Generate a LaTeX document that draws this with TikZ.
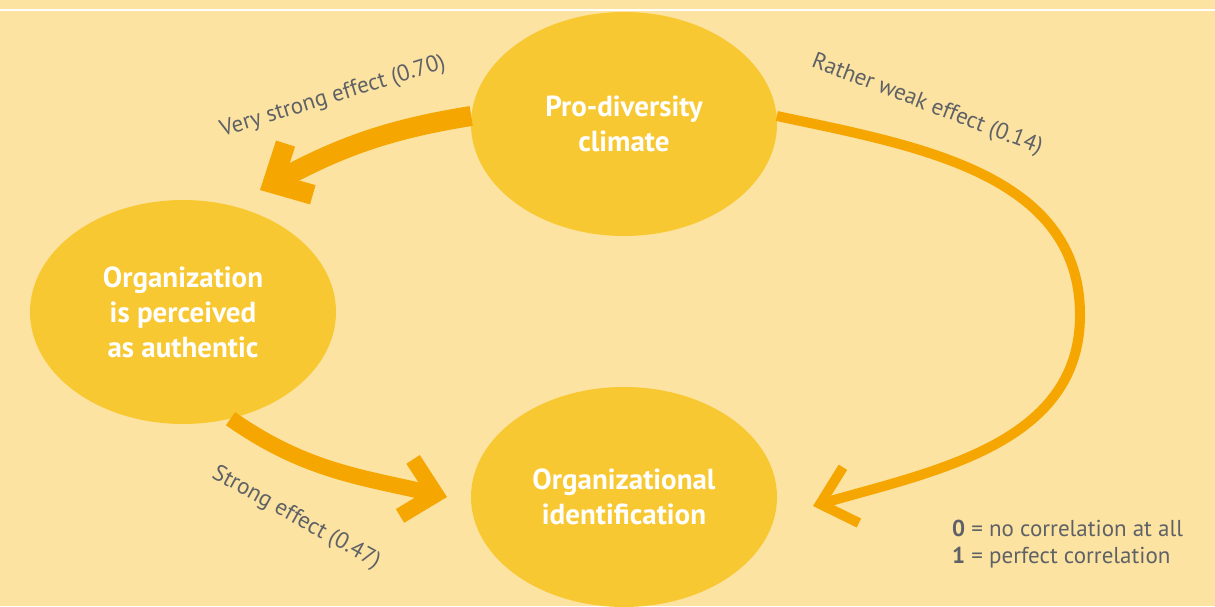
\documentclass[tikz,border=0pt]{standalone}
\usepackage{fontspec}
\setmainfont{PT Sans}
\usepackage{tikz}
\usetikzlibrary{arrows.meta,calc,positioning,shapes.geometric}
\definecolor{paper}{RGB}{253,227,161}
\definecolor{bubbleFill}{RGB}{248,200,50}
\definecolor{effectOrange}{RGB}{245,166,0}
\definecolor{labelGray}{RGB}{94,98,102}
\tikzset{
  bubble/.style={ellipse, fill=bubbleFill, minimum width=306pt, minimum height=224pt, inner sep=0pt,
    align=center, text=white, font=\fontsize{29}{35}\selectfont\bfseries},
  effectArrow/.style={draw=effectOrange, line cap=butt,
    -{Straight Barb[length=#1, width=58pt, line cap=butt, line join=miter]}},
  effectLabel/.style={text=labelGray, font=\fontsize{23}{26}\selectfont, inner sep=0pt},
  keyText/.style={text=labelGray, font=\fontsize{23}{27}\selectfont, inner sep=0pt, anchor=base west}
}
\begin{document}
\begin{tikzpicture}[x=1pt,y=1pt]
  \useasboundingbox (0,0) rectangle (1215,606);
  \fill[paper] (0,0) rectangle (1215,606);
  \draw[white, line width=1.5pt] (0,596) -- (1215,596);

  % the three factors
  \node[bubble] (climate) at (624,482) {Pro-diversity\\climate};
  \node[bubble] (authentic) at (183,294) {Organization\\is perceived\\as authentic};
  \node[bubble, minimum height=220pt] (ident) at (624,109) {Organizational\\identification};

  % arrow ends
  \coordinate (tipA) at (260,416);
  \coordinate (tipB) at (447,109);
  \coordinate (tipC) at (813,100);
  \coordinate (bendC) at (1080,291);

  \draw[effectArrow=30pt, line width=20pt] (climate.177) to[out=189, in=28] (tipA);
  \draw[effectArrow=30pt, line width=16pt] (authentic.-66) to[out=-35, in=167] (tipB);
  \draw[effectArrow=32pt, line width=10pt] (climate.3) to[out=-12, in=90] (bendC)
    to[out=-90, in=16] (tipC);

  % effect sizes
  \node[effectLabel, rotate=17] (lblA) at (333,509) {Very strong effect (0.70)};
  \node[effectLabel, rotate=-21] (lblC) at (927,501) {Rather weak effect (0.14)};
  \node[effectLabel, rotate=-29] (lblB) at (296,88) {Strong effect (0.47)};

  % key
  \node[keyText] (keyZero) at (952,70) {\textbf{0} = no correlation at all};
  \node[keyText] (keyOne) at (952,43) {\textbf{1} = perfect correlation};
\end{tikzpicture}
\end{document}
